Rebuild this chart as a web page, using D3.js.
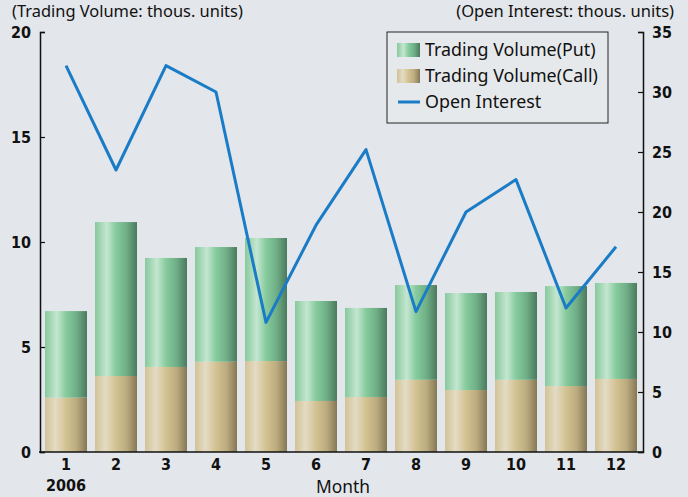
<!DOCTYPE html>
<html>
<head>
<meta charset="utf-8">
<script src="https://cdn.jsdelivr.net/npm/d3@7"></script>
<style>
  body { margin: 0; background: #e3e6ea; }
  svg { display: block; }
</style>
</head>
<body>
<svg id="chart" width="688" height="497"></svg>
<script>
// data
var months = ["1", "2", "3", "4", "5", "6", "7", "8", "9", "10", "11", "12"];
var callVol = [2.59, 3.62, 4.05, 4.30, 4.33, 2.43, 2.62, 3.44, 2.95, 3.44, 3.14, 3.48];
var putVol = [4.12, 7.33, 5.19, 5.46, 5.86, 4.76, 4.24, 4.51, 4.62, 4.18, 4.76, 4.57];
var openInt = [32.2, 23.5, 32.2, 30.0, 10.8, 18.9, 25.2, 11.7, 20.0, 22.7, 12.0, 17.1];
var leftTicks = [0, 5, 10, 15, 20];
var rightTicks = [0, 5, 10, 15, 20, 25, 30, 35];

var svg = d3.select("#chart");
var numFont = "'Liberation Sans Narrow', 'DejaVu Sans Condensed', sans-serif";
var txtFont = "'Noto Sans', 'DejaVu Sans', sans-serif";

// scale a text's font size so it spans about the same width as in the picture
function fitWidth(sel, w) {
  var fs = +sel.attr("font-size");
  var len = sel.node().getComputedTextLength();
  if (len > 0) sel.attr("font-size", (fs * w / len).toFixed(2));
  return sel;
}

var x = d3.scaleBand().domain(months).range([41, 641]).paddingInner(0.16).paddingOuter(0.08);
var yL = d3.scaleLinear().domain([0, 20]).range([452, 32]);
var yR = d3.scaleLinear().domain([0, 35]).range([452, 32]);

// background
svg.append("rect").attr("width", 688).attr("height", 497).attr("fill", "#e3e6ea");

// gradients for the bars
var defs = svg.append("defs");
function grad(id, stops) {
  var g = defs.append("linearGradient").attr("id", id)
    .attr("x1", "0%").attr("x2", "100%").attr("y1", "0%").attr("y2", "0%");
  stops.forEach(function(s) { g.append("stop").attr("offset", s[0]).attr("stop-color", s[1]); });
}
grad("gPut", [["0%", "#86c99c"], ["28%", "#c4e6d0"], ["50%", "#86cb9d"], ["75%", "#6fae86"], ["100%", "#4b7a5d"]]);
grad("gCall", [["0%", "#d2c396"], ["25%", "#e3dbc4"], ["50%", "#d3c291"], ["75%", "#bcab7f"], ["100%", "#847855"]]);

// stacked bars
var bars = svg.append("g");
bars.selectAll(".call").data(months).enter().append("rect")
  .attr("x", function(d) { return x(d); })
  .attr("width", x.bandwidth())
  .attr("y", function(d, i) { return yL(callVol[i]); })
  .attr("height", function(d, i) { return yL(0) - yL(callVol[i]); })
  .attr("fill", "url(#gCall)");
bars.selectAll(".put").data(months).enter().append("rect")
  .attr("x", function(d) { return x(d); })
  .attr("width", x.bandwidth())
  .attr("y", function(d, i) { return yL(callVol[i] + putVol[i]); })
  .attr("height", function(d, i) { return yL(callVol[i]) - yL(callVol[i] + putVol[i]); })
  .attr("fill", "url(#gPut)");

// open interest line
var line = d3.line()
  .x(function(d, i) { return x(months[i]) + x.bandwidth() / 2; })
  .y(function(d) { return yR(d); });
svg.append("path").datum(openInt)
  .attr("d", line)
  .attr("fill", "none")
  .attr("stroke", "#1a7cc6")
  .attr("stroke-width", 3)
  .attr("stroke-linejoin", "round");

// axes
var leftAxis = svg.append("g").attr("transform", "translate(40,0)")
  .call(d3.axisLeft(yL).tickValues(leftTicks).tickSize(-5).tickPadding(9));
var rightAxis = svg.append("g").attr("transform", "translate(643,0)")
  .call(d3.axisRight(yR).tickValues(rightTicks).tickSize(-5).tickPadding(9));
[leftAxis, rightAxis].forEach(function(a) {
  a.select(".domain").attr("stroke", "#111").attr("stroke-width", 1.5);
  a.selectAll(".tick line").attr("stroke", "#111").attr("stroke-width", 1.2);
  a.selectAll("text").attr("font-family", numFont).attr("font-weight", "bold")
    .attr("font-size", 16).attr("fill", "#111");
});

var bottomAxis = svg.append("g").attr("transform", "translate(0,452)")
  .call(d3.axisBottom(x).tickSize(0).tickPadding(7));
bottomAxis.select(".domain").remove();
bottomAxis.selectAll("text").attr("font-family", numFont).attr("font-weight", "bold")
  .attr("font-size", 16).attr("fill", "#111");
svg.append("line").attr("x1", 39).attr("x2", 644).attr("y1", 452).attr("y2", 452)
  .attr("stroke", "#111").attr("stroke-width", 1.5);

svg.append("text").attr("x", x("1") + x.bandwidth() / 2).attr("y", 491)
  .attr("text-anchor", "middle").attr("font-family", numFont).attr("font-weight", "bold")
  .attr("font-size", 16).attr("fill", "#111").text("2006");
fitWidth(svg.append("text").attr("x", 343).attr("y", 493)
  .attr("text-anchor", "middle").attr("font-family", txtFont)
  .attr("font-size", 17).attr("fill", "#111").text("Month"), 54);

// unit titles
fitWidth(svg.append("text").attr("x", 12).attr("y", 17).attr("font-family", txtFont)
  .attr("font-size", 15).attr("fill", "#111").text("(Trading Volume: thous. units)"), 231);
fitWidth(svg.append("text").attr("x", 674).attr("y", 17).attr("text-anchor", "end").attr("font-family", txtFont)
  .attr("font-size", 15).attr("fill", "#111").text("(Open Interest: thous. units)"), 218);

// legend
var legend = svg.append("g").attr("transform", "translate(387,32)");
legend.append("rect").attr("width", 221).attr("height", 91)
  .attr("fill", "#e6e9ec").attr("stroke", "#222").attr("stroke-width", 1);
var items = [
  { label: "Trading Volume(Put)", fill: "url(#gPut)" },
  { label: "Trading Volume(Call)", fill: "url(#gCall)" },
  { label: "Open Interest", line: true }
];
var legTexts = [];
items.forEach(function(it, i) {
  var yy = 18 + i * 26;
  if (it.line) {
    legend.append("line").attr("x1", 11).attr("x2", 33).attr("y1", yy).attr("y2", yy)
      .attr("stroke", "#1a7cc6").attr("stroke-width", 3);
  } else {
    legend.append("rect").attr("x", 10).attr("y", yy - 7).attr("width", 23).attr("height", 14)
      .attr("fill", it.fill);
  }
  legTexts.push(legend.append("text").attr("x", 38).attr("y", yy + 6).attr("font-family", txtFont)
    .attr("font-size", 17).attr("fill", "#111").text(it.label));
});
// one size for all legend labels, set from the longest one
var callLen = legTexts[1].node().getComputedTextLength();
var legSize = (17 * 173 / callLen).toFixed(2);
legTexts.forEach(function(t) { t.attr("font-size", legSize); });
</script>
</body>
</html>
